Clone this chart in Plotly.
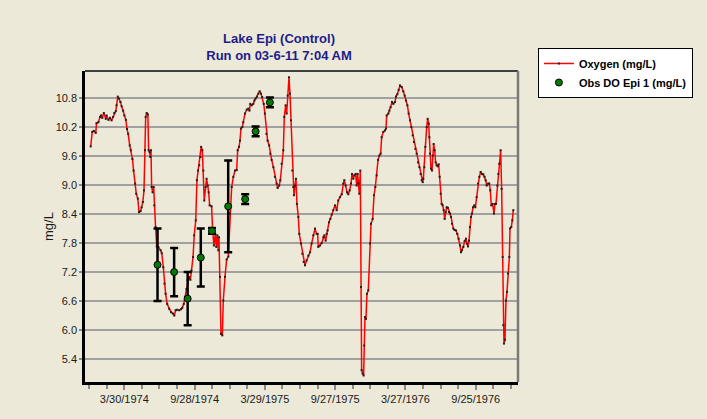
import pandas as pd
import plotly.graph_objects as go

# ---------------- data ----------------
# day number since 1974-01-01 and modelled oxygen (mg/L)
oxy_day = [1, 5, 9, 14, 16, 21, 25, 28, 31, 35, 40, 42, 47, 51, 55, 59, 62, 66, 68, 71,
           74, 78, 81, 85, 88, 92, 95, 98, 102, 105, 109, 112, 116, 119, 123, 126, 130, 133, 136, 139,
           141.5, 143.3, 146, 149, 151, 153.6, 155.3, 157.1, 158.8, 161.4, 164, 165.7, 169, 172, 176, 182, 185, 189, 192, 195,
           199, 204, 209, 214, 217.5, 221, 224, 230, 235, 238, 242, 245, 249, 252, 255.5, 259, 262, 266, 269, 273,
           276, 279, 282, 285, 287, 290, 292.6, 295, 298.6, 301, 304, 306.4, 309, 314, 316.7, 320, 323.6, 326.2, 328.8, 331.4,
           333.1, 335.7, 338.3, 341.8, 344.3, 348.7, 353, 357.3, 361.6, 366, 370.3, 374.6, 379, 381.5, 385, 387.5, 390, 393.6, 396, 400.5,
           405, 409, 412, 414, 418, 422, 425, 428, 431.5, 435, 438.5, 442, 445, 449, 452, 456, 459, 463, 466, 469.5,
           474, 478, 482.5, 485, 489, 492, 495.4, 499.7, 502.3, 505.8, 508.4, 511, 514.4, 517, 519.6, 523, 525.6, 527.3, 530, 532.5,
           535, 538.6, 541, 545.5, 549, 552.4, 555.8, 560, 564.5, 569, 573, 577.4, 581.7, 586, 588.6, 590.3, 594.7, 599, 603.3, 606,
           609.3, 612, 614.5, 618, 621.4, 625, 629, 633.5, 638, 642, 646.4, 651, 655, 657.7, 661, 664.6, 668, 671.5, 675, 677.5,
           681, 683.5, 687, 689.6, 692.2, 694, 696.5, 699.1, 700.8, 702.5, 705.1, 707.7, 709.4, 711.2, 713.7, 716.3, 719.8, 724.2, 726.8, 731.1,
           734.6, 738, 741.5, 745, 748.4, 751.8, 754.4, 758.7, 763, 765.6, 767.4, 771.7, 774.3, 777.7, 781.2, 784.6, 789, 791.5, 795, 798.4,
           801.9, 806.2, 810.5, 814, 817.4, 821, 824.3, 827.8, 831.2, 834.7, 838, 841.6, 845, 848.5, 852, 855.4, 858, 860.6, 862.3, 864.9,
           867.5, 871, 873.5, 876.1, 877.8, 879.5, 882.1, 884.7, 886.6, 889, 891.6, 894.2, 896.8, 899.4, 902, 904.6, 907.2, 909.7, 912.3, 915,
           917.5, 920, 922.7, 926, 928.7, 931.3, 934, 936.5, 940, 943.4, 947, 950.3, 953.8, 957.2, 959.8, 962.4, 965.8, 969.3, 972.7, 975.3,
           978, 980.5, 983, 985.7, 988.3, 991, 994.3, 997, 1000.4, 1003.8, 1007.3, 1010.7, 1014.2, 1017.6, 1021, 1023.7, 1026.3, 1029.7, 1033, 1035.7,
           1038.3, 1041.8, 1045.2, 1047.8, 1050.4, 1053.9, 1056.5, 1059, 1062.5, 1065.1, 1067.7, 1069.4, 1071.1, 1073.7, 1076.3, 1078.9, 1081.5, 1085, 1086.7, 1090,
           1092.7, 1095.3]
oxy_val = [9.80, 10.10, 10.12, 10.08, 10.28, 10.30, 10.41, 10.44, 10.39, 10.49, 10.37, 10.44, 10.35, 10.39, 10.34, 10.41, 10.49, 10.53, 10.65, 10.83,
           10.79, 10.72, 10.63, 10.54, 10.44, 10.35, 10.16, 10.06, 9.82, 9.72, 9.54, 9.30, 9.03, 8.82, 8.72, 8.44, 8.46, 8.54, 8.65, 8.89,
           9.72, 10.41, 10.49, 10.46, 9.72, 9.68, 9.58, 9.72, 8.96, 8.85, 8.96, 8.58, 8.13, 7.73, 7.72, 7.65, 7.59, 7.30, 6.96, 6.75,
           6.54, 6.44, 6.37, 6.34, 6.30, 6.41, 6.42, 6.41, 6.43, 6.46, 6.54, 6.68, 6.85, 7.03, 7.10, 7.04, 7.23, 7.51, 7.96, 8.27,
           9.10, 9.30, 9.41, 9.58, 9.79, 9.72, 9.30, 8.68, 8.96, 9.13, 8.99, 8.85, 8.58, 8.56, 8.06, 7.75, 7.99, 7.72, 7.96, 7.65,
           7.92, 7.10, 5.92, 5.89, 6.61, 7.10, 7.46, 7.52, 8.41, 8.96, 9.17, 9.30, 9.31, 9.72, 9.79, 9.92, 10.17, 10.20, 10.30, 10.48,
           10.56, 10.58, 10.54, 10.68, 10.65, 10.68, 10.75, 10.79, 10.83, 10.89, 10.94, 10.89, 10.82, 10.68, 10.48, 10.06, 9.92, 9.82, 9.65, 9.52,
           9.37, 9.17, 9.03, 8.94, 8.99, 9.10, 9.44, 9.72, 10.41, 10.65, 10.48, 10.85, 11.23, 10.89, 10.34, 9.30, 8.96, 8.79, 8.99, 9.13,
           8.61, 8.34, 7.99, 7.79, 7.58, 7.41, 7.34, 7.44, 7.54, 7.61, 7.79, 7.96, 8.10, 7.99, 7.99, 7.72, 7.75, 7.80, 7.92, 7.96,
           7.85, 7.99, 8.06, 8.23, 8.30, 8.39, 8.48, 8.58, 8.48, 8.68, 8.75, 8.81, 9.03, 9.10, 8.99, 8.85, 8.81, 8.89, 9.03, 9.23,
           9.13, 9.20, 9.23, 8.99, 9.23, 9.03, 8.82, 9.30, 6.89, 5.17, 5.10, 5.06, 5.68, 6.27, 6.23, 6.75, 6.82, 7.79, 8.20, 8.30,
           8.79, 8.96, 9.20, 9.52, 9.61, 9.65, 9.99, 10.10, 10.13, 10.17, 10.44, 10.48, 10.54, 10.61, 10.72, 10.68, 10.72, 10.83, 10.88, 10.97,
           11.06, 11.03, 10.94, 10.85, 10.75, 10.65, 10.48, 10.34, 10.20, 10.03, 9.89, 9.75, 9.65, 9.47, 9.37, 9.23, 9.10, 9.06, 9.13, 9.37,
           9.79, 10.20, 10.37, 10.27, 9.99, 9.65, 9.34, 9.30, 9.61, 9.85, 9.72, 9.47, 9.41, 9.39, 9.43, 9.17, 8.82, 8.61, 8.58, 8.48,
           8.30, 8.44, 8.54, 8.53, 8.44, 8.41, 8.34, 8.20, 8.10, 8.07, 8.06, 7.99, 7.89, 7.75, 7.61, 7.65, 7.72, 7.84, 7.89, 7.79,
           7.73, 7.85, 8.13, 8.34, 8.41, 8.54, 8.58, 8.54, 8.75, 9.03, 9.17, 9.27, 9.23, 9.22, 9.17, 9.10, 8.99, 9.03, 9.03, 8.89,
           8.58, 8.61, 8.41, 8.61, 8.61, 8.99, 9.23, 9.44, 9.72, 8.92, 7.51, 6.10, 5.72, 5.80, 6.61, 6.79, 7.17, 7.51, 8.10, 8.13,
           8.27, 8.48]

# observations (day number since 1974-01-01), value and +/- error
obs_day = [174, 217, 252, 286, 315, 357, 401, 428, 465]
obs_val = [7.35, 7.20, 6.65, 7.50, 8.05, 8.56, 8.71, 10.11, 10.71]
obs_err = [0.75, 0.50, 0.55, 0.60, 0.06, 0.95, 0.10, 0.10, 0.10]

x_tick_dates = ["1974-03-30", "1974-09-28", "1975-03-29", "1975-09-27", "1976-03-27", "1976-09-25"]
x_tick_text = ["3/30/1974", "9/28/1974", "3/29/1975", "9/27/1975", "3/27/1976", "9/25/1976"]
y_tick_vals = [5.4, 6.0, 6.6, 7.2, 7.8, 8.4, 9.0, 9.6, 10.2, 10.8]
y_tick_text = ["5.4", "6.0", "6.6", "7.2", "7.8", "8.4", "9.0", "9.6", "10.2", "10.8"]

origin = pd.Timestamp("1974-01-01")
oxy_dates = origin + pd.to_timedelta(oxy_day, unit="D")
obs_dates = origin + pd.to_timedelta(obs_day, unit="D")

FONT = "Liberation Sans, Arial, sans-serif"
BG = "#ECE9D8"

fig = go.Figure()
fig.add_trace(go.Scatter(
    x=oxy_dates, y=oxy_val, name="Oxygen (mg/L)", mode="lines+markers",
    line=dict(color="#FF0000", width=1.5),
    marker=dict(color="#202020", size=2, symbol="square"),
))
fig.add_trace(go.Scatter(
    x=obs_dates, y=obs_val, name="Obs DO Epi 1 (mg/L)", mode="markers",
    marker=dict(color="#007A00", size=7, line=dict(color="black", width=1)),
    error_y=dict(type="data", array=obs_err, color="black", thickness=2.5, width=4),
))

fig.update_layout(
    width=707, height=419,
    margin=dict(l=85, r=189, t=71, b=37, autoexpand=False),
    paper_bgcolor=BG, plot_bgcolor=BG,
    font=dict(family=FONT, size=11, color="#1a1a1a"),
    title=dict(
        text="Lake Epi (Control)<br>Run on 03-6-11 7:04 AM",
        x=279 / 707, xref="container", xanchor="center",
        y=1 - 43 / 419, yref="container", yanchor="top",
        font=dict(family=FONT, size=13, color="#1C1C8C", weight="bold"),
    ),
    legend=dict(
        x=1.046, y=1.074, xanchor="left", yanchor="top",
        bgcolor="white", bordercolor="black", borderwidth=1,
        font=dict(family=FONT, size=11, color="black", weight="bold"),
    ),
    showlegend=True,
)

fig.update_xaxes(
    type="date", automargin=False,
    range=["1973-12-18 05:00", "1977-01-12 10:00"],
    tickmode="array", tickvals=x_tick_dates, ticktext=x_tick_text,
    ticks="outside", ticklen=5, tickwidth=1.5, tickcolor="#8A8A8A",
    minor=dict(tick0="1973-12-29", dtick=45.5 * 86400000, ticks="outside",
               ticklen=4, tickwidth=1.5, tickcolor="#8A8A8A", showgrid=False),
    showgrid=False, zeroline=False,
    showline=True, linecolor="black", linewidth=2.5,
    tickfont=dict(size=11, color="#1a1a1a"),
)
fig.update_yaxes(
    automargin=False,
    range=[4.925, 11.36],
    tickmode="array", tickvals=y_tick_vals, ticktext=y_tick_text,
    ticks="outside", ticklen=3, tickwidth=2, tickcolor="#8A8A8A",
    showgrid=True, gridcolor="#A0A0A0", gridwidth=1.6,
    zeroline=False,
    showline=True, linecolor="black", linewidth=2.5,
    tickfont=dict(size=11, color="#1a1a1a"),
    title=dict(text="mg/L", font=dict(size=13, color="#1a1a1a"), standoff=0),
)

# plot frame: top and right borders
fig.add_shape(type="line", xref="paper", yref="paper", x0=0, x1=1, y0=1, y1=1,
              line=dict(color="#404040", width=2))
fig.add_shape(type="line", xref="paper", yref="paper", x0=1, x1=1, y0=0, y1=1,
              line=dict(color="#7A7A7A", width=2.5))

fig.write_html(
    "out.html",
    config={"displayModeBar": False},
    post_script="document.body.style.margin='0';document.body.style.overflow='hidden';",
)
